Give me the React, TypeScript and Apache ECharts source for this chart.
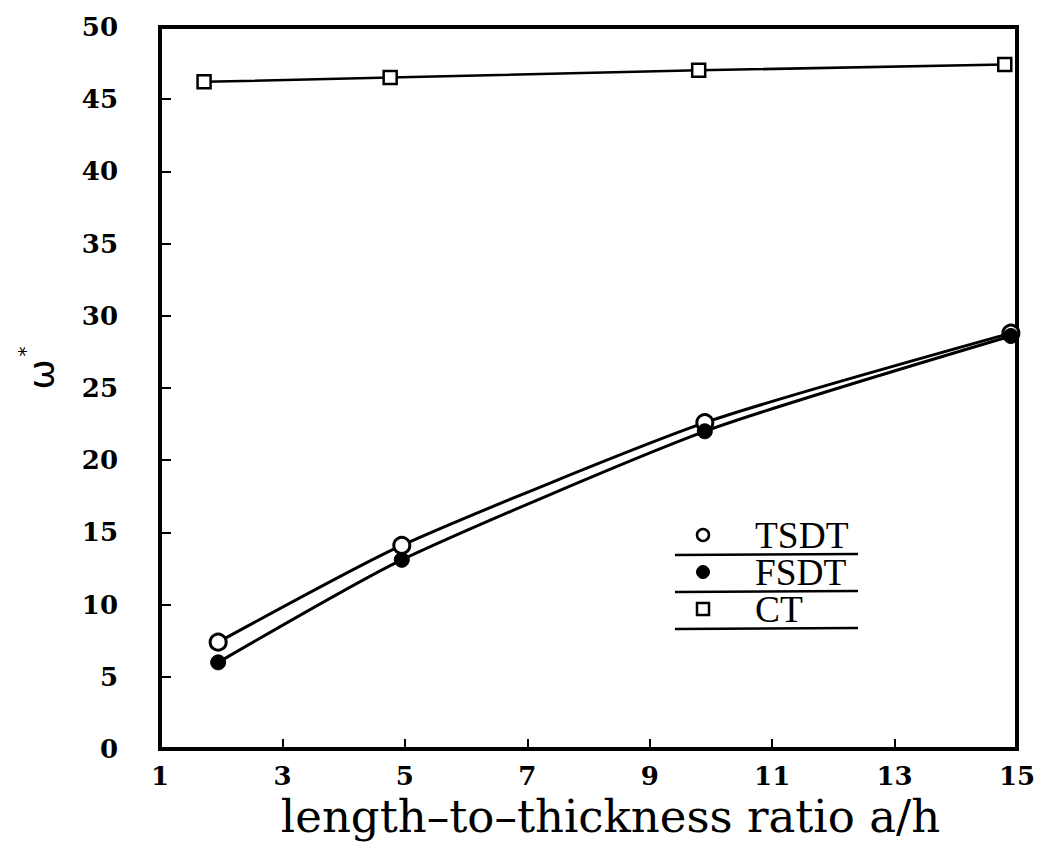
import React, { useEffect, useRef } from "react";
import * as echarts from "echarts";

const tsdtX = [1.95, 4.95, 9.9, 14.9];
const tsdtY = [7.4, 14.1, 22.6, 28.8];
const fsdtX = [1.95, 4.95, 9.9, 14.9];
const fsdtY = [6.0, 13.1, 22.0, 28.6];
const ctX = [1.72, 4.76, 9.8, 14.8];
const ctY = [46.2, 46.5, 47.0, 47.4];
const legendNames = ["TSDT", "FSDT", "CT"];

const zip = (xs: number[], ys: number[]) => xs.map((x, i) => [x, ys[i]]);

export default function App() {
  const ref = useRef<HTMLDivElement>(null);
  useEffect(() => {
    const chart = echarts.init(ref.current!, null, { renderer: "svg" });
    const labelFont = { fontFamily: "DejaVu Serif", fontWeight: "bold" as const, fontSize: 26, color: "#000" };
    const lx = 695;
    const ty = 527;
    const dy = 37;
    chart.setOption({
      animation: false,
      backgroundColor: "#fff",
      grid: {
        left: 152, right: 18, top: 19, bottom: 99, show: true, borderColor: "#000", borderWidth: 4,
        outerBoundsMode: "none", containLabel: false,
      },
      xAxis: {
        type: "value", min: 1, max: 15, interval: 2,
        axisLine: { show: true, lineStyle: { color: "#000", width: 4 } },
        axisTick: { inside: true, length: 10, lineStyle: { color: "#000", width: 2 } },
        splitLine: { show: false },
        axisLabel: { ...labelFont, margin: 14 },
        name: "length\u2013to\u2013thickness ratio a/h",
        nameLocation: "middle", nameGap: 30,
        nameTextStyle: { fontFamily: "DejaVu Serif", fontSize: 45, color: "#000", verticalAlign: "top", padding: [0, 0, 0, 44] },
      },
      yAxis: {
        type: "value", min: 0, max: 50, interval: 5,
        axisLine: { show: true, lineStyle: { color: "#000", width: 4 } },
        axisTick: { inside: true, length: 11, lineStyle: { color: "#000", width: 2 } },
        splitLine: { show: false },
        axisLabel: { ...labelFont, margin: 42 },
        name: "{w|ω}{s|*}",
        nameLocation: "middle", nameGap: 101, nameRotate: 90,
        nameTextStyle: {
          fontFamily: "DejaVu Sans", fontSize: 34, color: "#000", padding: [0, 0, 0, 40],
          rich: {
            w: { fontFamily: "DejaVu Sans", fontSize: 36, color: "#000", verticalAlign: "bottom" },
            s: { fontFamily: "DejaVu Sans", fontSize: 20, color: "#000", verticalAlign: "top", padding: [0, 0, 24, 3] },
          },
        },
      },
      series: [
        {
          name: "TSDT", type: "line", data: zip(tsdtX, tsdtY), smooth: 0.2,
          symbol: "circle", symbolSize: 16,
          itemStyle: { color: "#fff", borderColor: "#000", borderWidth: 3 },
          lineStyle: { color: "#000", width: 3 },
        },
        {
          name: "FSDT", type: "line", data: zip(fsdtX, fsdtY), smooth: 0.2,
          symbol: "circle", symbolSize: 15,
          itemStyle: { color: "#000", borderColor: "#000", borderWidth: 1 },
          lineStyle: { color: "#000", width: 3 },
        },
        {
          name: "CT", type: "line", data: zip(ctX, ctY),
          symbol: "rect", symbolSize: 13,
          itemStyle: { color: "#fff", borderColor: "#000", borderWidth: 2.5 },
          lineStyle: { color: "#000", width: 2.5 },
        },
      ],
      graphic: [
        { type: "circle", shape: { cx: lx, cy: ty, r: 6 }, style: { fill: "#fff", stroke: "#000", lineWidth: 2.5 } },
        { type: "circle", shape: { cx: lx, cy: ty + dy, r: 6.5 }, style: { fill: "#000", stroke: "#000", lineWidth: 1 } },
        { type: "rect", shape: { x: lx - 6, y: ty + 2 * dy - 6, width: 12, height: 12 }, style: { fill: "#fff", stroke: "#000", lineWidth: 2.5 } },
        ...legendNames.map((n, i) => ({
          type: "text", x: 747, y: ty + i * dy, scaleX: 1.1, scaleY: 1.1,
          style: { text: n, font: "34px 'Liberation Serif'", fill: "#000", textVerticalAlign: "middle", textAlign: "left" },
        })),
        ...[0, 1, 2].map((i) => ({
          type: "line", shape: { x1: 667, y1: ty + 20 + i * dy, x2: 850, y2: ty + 19 + i * dy },
          style: { stroke: "#000", lineWidth: 2.5 },
        })),
      ],
    });
    return () => chart.dispose();
  }, []);
  return <div ref={ref} style={{ width: 1027, height: 840 }} />;
}
